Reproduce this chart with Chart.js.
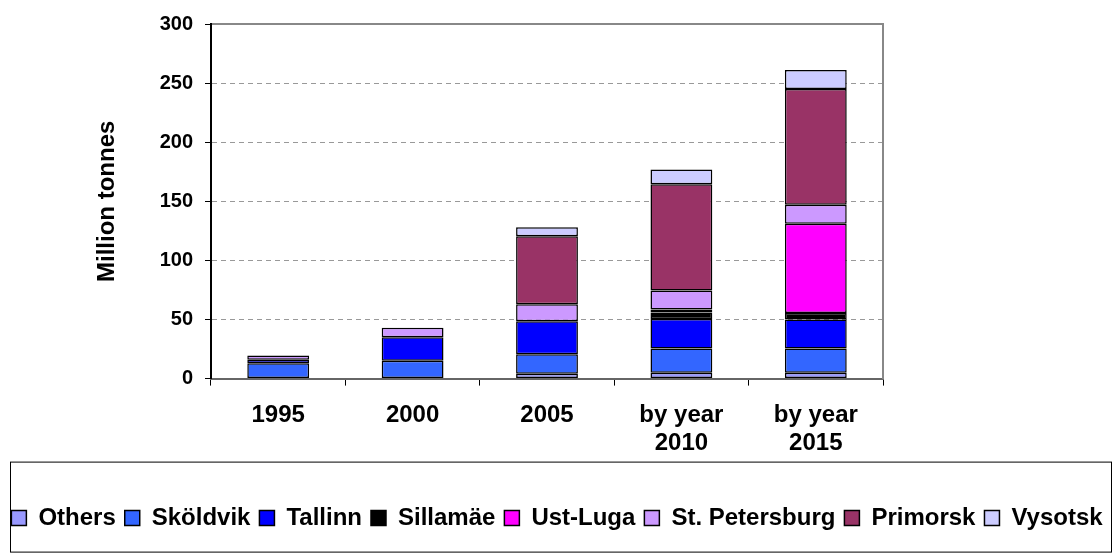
<!DOCTYPE html>
<html>
<head>
<meta charset="utf-8">
<script src="https://cdn.jsdelivr.net/npm/chart.js@4"></script>
<style>
  body { margin: 0; background: #fff; }
</style>
</head>
<body>
<canvas id="ports" width="1114" height="558"></canvas>
<script>
// categories and values (million tonnes)
const years = ['1995', '2000', '2005', ['by year', '2010'], ['by year', '2015']];
const others = [null, null, 4, 5, 5];
const skoldvik = [13, 15, 16.5, 20.5, 20.5];
const tallinn = [3, 20, 28, 25, 24.5];
const sillamae = [null, null, null, 5.5, 5.5];
const ustLuga = [null, null, null, 2.5, 75.5];
const stPetersburg = [3.5, 8, 14.5, 16, 16];
const primorsk = [null, null, 57.5, 90, 98];
const vysotsk = [null, null, 7.5, 12.5, 16];
const yTicks = [0, 50, 100, 150, 200, 250, 300];

const font = 'Arial, "Liberation Sans", sans-serif';

function series(label, data, color) {
    return {
        label: label,
        data: data,
        backgroundColor: color,
        borderColor: '#000',
        borderWidth: 1.5,
        borderSkipped: false,
        inflateAmount: 0,
        barPercentage: 0.46,
        categoryPercentage: 1
    };
}

// box round the legend
const legendBox = {
    id: 'legendBox',
    afterDraw(chart) {
        const lg = chart.legend;
        const c = chart.ctx;
        c.save();
        c.strokeStyle = '#000';
        c.lineWidth = 1;
        c.strokeRect(10.5, lg.top - 1.5, chart.width - 13, 90);
        c.restore();
    }
};

const ctx = document.getElementById('ports').getContext('2d');
const chart = new Chart(ctx, {
    type: 'bar',
    data: {
        labels: years,
        datasets: [
            series('Others', others, '#9999FF'),
            series('Sköldvik', skoldvik, '#3366FF'),
            series('Tallinn', tallinn, '#0000FF'),
            series('Sillamäe', sillamae, '#000000'),
            series('Ust-Luga', ustLuga, '#FF00FF'),
            series('St. Petersburg', stPetersburg, '#CC99FF'),
            series('Primorsk', primorsk, '#993366'),
            series('Vysotsk', vysotsk, '#CCCCFF')
        ]
    },
    options: {
        responsive: false,
        animation: false,
        layout: { padding: { top: 17, bottom: 18, left: 0, right: 0 } },
        plugins: {
            tooltip: { enabled: false },
            legend: {
                position: 'bottom',
                title: { display: true, text: '', padding: { top: 19, bottom: 0 } },
                labels: {
                    boxWidth: 15,
                    boxHeight: 15,
                    padding: 9,
                    color: '#000',
                    font: { family: font, size: 24, weight: 'bold' }
                }
            }
        },
        scales: {
            x: {
                stacked: true,
                grid: { drawOnChartArea: false, tickLength: 7, tickColor: '#000', lineWidth: 1 },
                border: { color: '#666', width: 2 },
                ticks: {
                    color: '#000',
                    padding: 15,
                    maxRotation: 0,
                    font: { family: font, size: 24, weight: 'bold' }
                },
                afterFit(s) { s.height = 85; }
            },
            x2: {
                position: 'top',
                display: true,
                grid: { drawOnChartArea: false, drawTicks: false },
                ticks: { display: false },
                border: { color: '#888', width: 2 },
                afterFit(s) { s.height = 0; }
            },
            y: {
                stacked: true,
                min: 0,
                max: 300,
                afterBuildTicks(s) { s.ticks = yTicks.map(v => ({ value: v })); },
                grid: { color: '#999', tickLength: 6, tickColor: '#000', lineWidth: 1 },
                border: { color: '#000', width: 2, dash: [5, 4] },
                ticks: {
                    color: '#000',
                    padding: 12,
                    font: { family: font, size: 20, weight: 'bold' }
                },
                title: {
                    display: true,
                    text: 'Million tonnes',
                    color: '#000',
                    padding: { top: 93, bottom: 0 },
                    font: { family: font, size: 24, weight: 'bold' }
                },
                afterFit(s) { s.width = 211; }
            },
            y2: {
                position: 'right',
                display: true,
                grid: { drawOnChartArea: false, drawTicks: false },
                ticks: { display: false },
                border: { color: '#888', width: 2 },
                afterFit(s) { s.width = 231; }
            }
        }
    },
    plugins: [legendBox]
});
</script>
</body>
</html>
